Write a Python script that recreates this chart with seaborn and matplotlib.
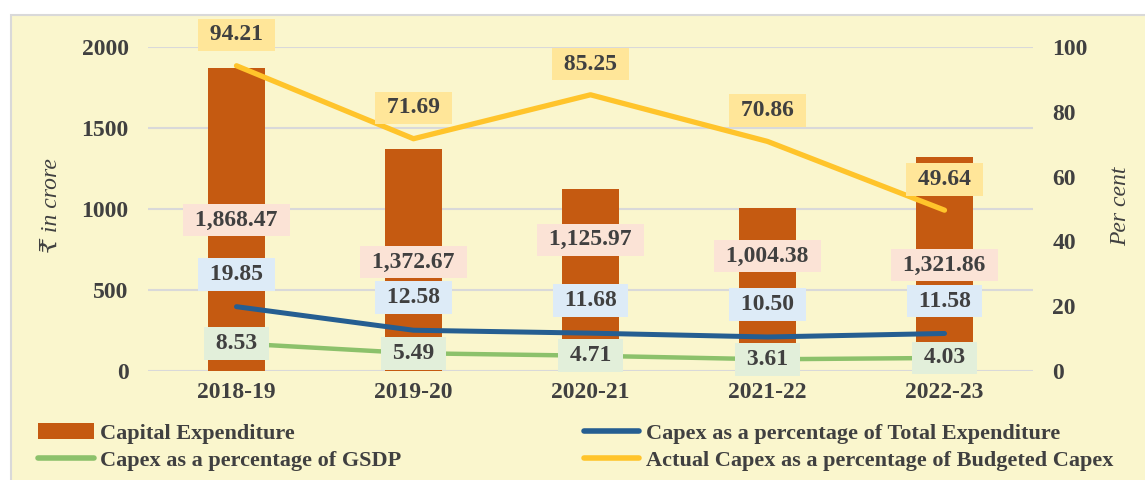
import matplotlib.pyplot as plt
import seaborn as sns
import pandas as pd
import numpy as np
from matplotlib.patches import Patch, Rectangle
from matplotlib.lines import Line2D

sns.set_theme(style="white")
plt.rcParams["font.family"] = ["Liberation Serif", "DejaVu Serif", "DejaVu Sans"]
plt.rcParams["font.weight"] = "bold"
plt.rcParams["font.size"] = 16

BG = "#FAF6CD"
TXT = "#404040"
ORANGE = "#C55A11"
BLUE = "#255E91"
GREEN = "#8CC16B"
YELLOW = "#FFC42B"

years = ["2018-19", "2019-20", "2020-21", "2021-22", "2022-23"]
capex = [1868.47, 1372.67, 1125.97, 1004.38, 1321.86]
pct_total_exp = [19.85, 12.58, 11.68, 10.50, 11.58]
pct_gsdp = [8.53, 5.49, 4.71, 3.61, 4.03]
pct_budgeted = [94.21, 71.69, 85.25, 70.86, 49.64]

# where the capex labels sit (left-axis units), as in the original
capex_label_y = [932, 673, 809, 710, 654]

df = pd.DataFrame({"year": years, "capex": capex, "tot": pct_total_exp,
                   "gsdp": pct_gsdp, "bud": pct_budgeted})

fig = plt.figure(figsize=(11.45, 4.8), dpi=100, facecolor="white")
fig.patches.append(Rectangle((11 / 1145, -0.01), 1.1, 1 - 15 / 480 + 0.01,
                             transform=fig.transFigure, facecolor=BG,
                             edgecolor="#D9D9D9", lw=1.5, zorder=-10))

ax = fig.add_axes([148 / 1145, 109 / 480, 885 / 1145, 324 / 480])
ax.set_facecolor("none")
ax.set_zorder(1)
sns.barplot(data=df, x="year", y="capex", color=ORANGE, width=0.32,
            saturation=1, linewidth=0, ax=ax, zorder=2)
ax.set_ylim(0, 2000)
ax.set_yticks([0, 500, 1000, 1500, 2000])
ax.grid(axis="y", color="#D9D9D9", lw=1.5, zorder=0)
ax.set_axisbelow(True)
for s in ax.spines.values():
    s.set_visible(False)
ax.tick_params(axis="y", length=0, pad=14, labelcolor=TXT, labelsize=17)
ax.tick_params(axis="x", length=0, pad=8, labelcolor=TXT, labelsize=17)
ax.set_xlabel("")
ax.set_ylabel("₹ in crore", style="italic", color=TXT, fontsize=17)
ax.yaxis.set_label_coords(-0.097, 0.51)

ax2 = ax.twinx()
for col, c, lw in [("gsdp", GREEN, 3.2), ("tot", BLUE, 3.6), ("bud", YELLOW, 3.8)]:
    sns.pointplot(data=df, x="year", y=col, color=c, markers="", linewidth=lw,
                  ax=ax2, zorder=4)
ax2.set_ylim(0, 100)
ax2.set_xlim(-0.5, 4.5)
ax.set_xlim(-0.5, 4.5)
ax2.set_yticks([0, 20, 40, 60, 80, 100])
for s in ax2.spines.values():
    s.set_visible(False)
ax2.tick_params(axis="y", length=0, pad=14, labelcolor=TXT, labelsize=17)
ax2.set_ylabel("Per cent", style="italic", color=TXT, fontsize=17, rotation=90)
ax2.yaxis.set_label_coords(1.087, 0.51)
ax2.set_xlabel("")


def box(a, x, y, s, fc):
    a.text(x, y, " " + s + " ", ha="center", va="center", color=TXT, fontsize=17,
           zorder=6, clip_on=False,
           bbox=dict(boxstyle="square,pad=0.25", fc=fc, ec="none"))


for i in range(len(years)):
    box(ax, i, capex_label_y[i], f"{capex[i]:,.2f}", "#FBE3D6")
    box(ax2, i, pct_total_exp[i] + 10, f"{pct_total_exp[i]:.2f}", "#DDEBF7")
    box(ax2, i, pct_gsdp[i], f"{pct_gsdp[i]:.2f}", "#E2EFDA")
    box(ax2, i, pct_budgeted[i] + 9.5, f"{pct_budgeted[i]:.2f}", "#FFE699")

handles = [
    Patch(facecolor=ORANGE, edgecolor="none"),
    Line2D([], [], color=GREEN, lw=4, solid_capstyle="round"),
    Line2D([], [], color=BLUE, lw=4, solid_capstyle="round"),
    Line2D([], [], color=YELLOW, lw=4, solid_capstyle="round"),
]
labels = ["Capital Expenditure", "Capex as a percentage of GSDP",
          "Capex as a percentage of Total Expenditure",
          "Actual Capex as a percentage of Budgeted Capex"]
leg = fig.legend(handles, labels, ncol=2, loc="upper left",
                 bbox_to_anchor=(38 / 1145, 1 - 423 / 480), frameon=False,
                 handlelength=2.5, handleheight=0.75, handletextpad=0.3,
                 columnspacing=8.2, labelspacing=0.3, fontsize=16,
                 borderaxespad=0, borderpad=0)
for t in leg.get_texts():
    t.set_color(TXT)

plt.savefig("out.png", dpi=100, facecolor="white")
